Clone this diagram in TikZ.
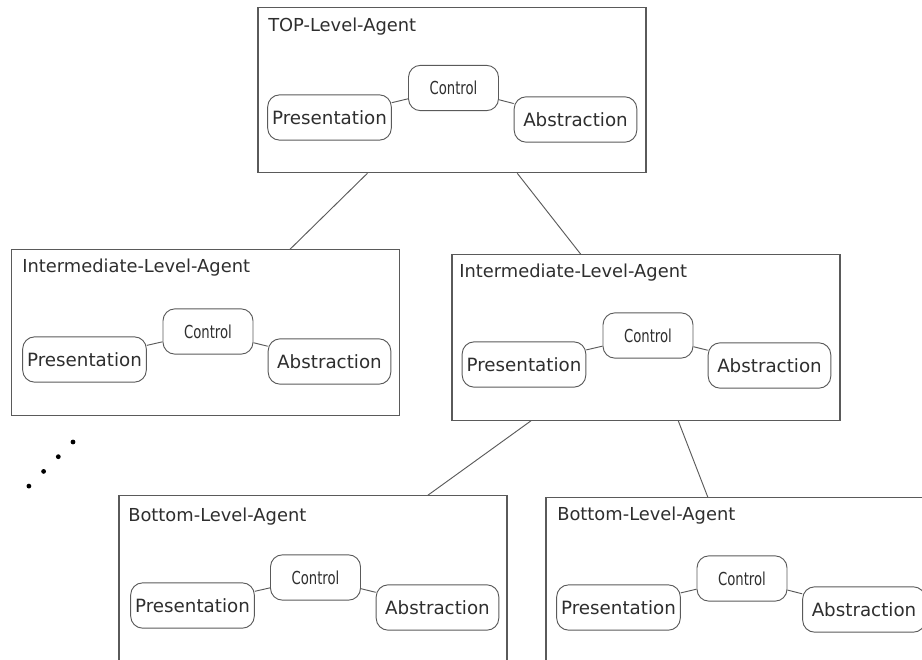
\documentclass[tikz,border=0pt]{standalone}
\usepackage{fontspec}
\setmainfont{DejaVu Sans}
\newfontfamily\condfont[FakeStretch=0.74]{DejaVu Sans}
\definecolor{linegray}{HTML}{5A5A5A}
\definecolor{textgray}{HTML}{2E2E2E}
\tikzset{
  agent/.style={draw=linegray, line width=0.9pt, minimum width=291pt, minimum height=124pt},
  part/.style={draw=linegray, line width=0.7pt, rounded corners=9pt, minimum width=92pt, minimum height=34pt,
    text=textgray, font=\fontsize{13.7}{16}\selectfont},
  ctl/.style={part, minimum width=67.5pt, font=\condfont\fontsize{13.4}{16}\selectfont},
  title/.style={anchor=west, inner sep=0pt, text=textgray, font=\fontsize{13.4}{16}\selectfont},
  link/.style={draw=linegray, line width=0.7pt}
}

\begin{document}
\begin{tikzpicture}[x=0.75pt, y=-0.75pt]
  \useasboundingbox (0,0) rectangle (922,660);
  \clip (0,0) rectangle (922,660);

  % agents
  \node[agent] (top) at (452,90) {};
  \node[agent] (midL) at (205.5,332.5) {};
  \node[agent] (midR) at (646,337.5) {};
  \node[agent] (botL) at (313,578.5) {};
  \node[agent] (botR) at (740,580.5) {};

  \node[title] (topT) at (268,27) {TOP-Level-Agent};
  \node[title] (midLT) at (22,268) {Intermediate-Level-Agent};
  \node[title] (midRT) at (459,273) {Intermediate-Level-Agent};
  \node[title] (botLT) at (128,517) {Bottom-Level-Agent};
  \node[title] (botRT) at (557,516) {Bottom-Level-Agent};

  % top level
  \node[part] (topP) at (329.5,117.5) {Presentation};
  \node[ctl] (topC) at (453.5,88) {Control};
  \node[part] (topA) at (575.5,119.5) {Abstraction};

  % intermediate, left
  \node[part] (midLP) at (84.5,359.5) {Presentation};
  \node[ctl] (midLC) at (208,331.5) {Control};
  \node[part] (midLA) at (329.5,361.5) {Abstraction};

  % intermediate, right
  \node[part] (midRP) at (524,364.5) {Presentation};
  \node[ctl] (midRC) at (648,335.5) {Control};
  \node[part] (midRA) at (769.5,365.5) {Abstraction};

  % bottom, left
  \node[part] (botLP) at (192.5,605.5) {Presentation};
  \node[ctl] (botLC) at (315.5,577.5) {Control};
  \node[part] (botLA) at (437.5,607.5) {Abstraction};

  % bottom, right
  \node[part] (botRP) at (618.5,607.5) {Presentation};
  \node[ctl] (botRC) at (742,578.5) {Control};
  \node[part] (botRA) at (864,609.5) {Abstraction};

  \draw[link] (topP) -- (topC) -- (topA);
  \draw[link] (midLP) -- (midLC) -- (midLA);
  \draw[link] (midRP) -- (midRC) -- (midRA);
  \draw[link] (botLP) -- (botLC) -- (botLA);
  \draw[link] (botRP) -- (botRC) -- (botRA);

  % hierarchy
  \draw[link] (top) -- (midL);
  \draw[link] (top) -- (midR);
  \draw[link] (midR) -- (botL);
  \draw[link] (midR) -- (botR);

  % more agents
  \foreach \i in {0,...,3}
    \fill[black] (73-14.7*\i, 442+14.7*\i) circle (2.4);
\end{tikzpicture}
\end{document}
